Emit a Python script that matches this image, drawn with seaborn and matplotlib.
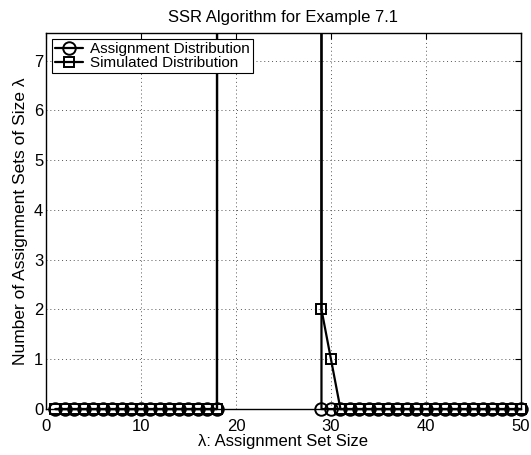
import numpy as np
import pandas as pd
import seaborn as sns
import matplotlib
matplotlib.use("Agg")
import matplotlib.pyplot as plt
from matplotlib.transforms import Bbox, TransformedBbox

# Assignment set sizes lambda = 1..50
set_sizes = list(range(1, 51))

# Counts per set size; sizes 19..28 hold very large counts that run off the plotted range
assignment_counts = ([0] * 18
                     + [1400, 9600, 43000, 135000, 295000, 432000, 418000, 271000, 112000, 27000]
                     + [0] * 22)
simulated_counts = ([0] * 18
                    + [1100, 10200, 41800, 137200, 290300, 436600, 415100, 268900, 114500, 28100]
                    + [2, 1] + [0] * 20)

series_names = ["Assignment Distribution", "Simulated Distribution"]

df = pd.DataFrame({
    "size": set_sizes * 2,
    "count": assignment_counts + simulated_counts,
    "series": [series_names[0]] * 50 + [series_names[1]] * 50,
})

sns.set_theme(style="white")
plt.rcParams["font.family"] = ["Liberation Sans", "DejaVu Sans"]
plt.rcParams["text.color"] = "black"
plt.rcParams["axes.labelcolor"] = "black"

fig = plt.figure(figsize=(5.31, 4.55), dpi=100)
ax = fig.add_axes([0.0866, 0.101, 0.8945, 0.826])

styles = {series_names[0]: dict(marker="o", markersize=9),
          series_names[1]: dict(marker="s", markersize=6.5)}
for name in series_names:
    sns.lineplot(data=df[df["series"] == name], x="size", y="count",
                 ax=ax, color="black", linewidth=1.6, estimator=None,
                 sort=False, label=name, markerfacecolor="none",
                 markeredgecolor="black", markeredgewidth=1.4,
                 **styles[name])

# clip the off-scale segments at the top, but let edge markers show in full
clip_box = TransformedBbox(Bbox([[-0.03, -0.05], [1.03, 1.0]]), ax.transAxes)
for line in ax.lines:
    line.set_clip_box(clip_box)

ax.set_xlim(0, 50)
ax.set_ylim(0, 7.55)
ax.set_xticks([0, 10, 20, 30, 40, 50])
ax.set_yticks(range(0, 8))
ax.grid(True, which="major", linestyle=(0, (1, 3)), color="#555555", linewidth=0.7)
for s in ax.spines.values():
    s.set_color("black")
    s.set_linewidth(1.0)
ax.tick_params(direction="in", top=True, right=True, length=4, width=0.8,
               colors="black", labelcolor="black", labelsize=12)
ax.tick_params(axis="x", pad=7)
ax.tick_params(axis="y", pad=2)

ax.set_title("SSR Algorithm for Example 7.1", fontsize=12, pad=8, color="black")
ax.set_xlabel("λ: Assignment Set Size", fontsize=12, labelpad=0)
ax.set_ylabel("Number of Assignment Sets of Size λ", fontsize=12.5, labelpad=4)

leg = ax.legend(loc="upper left", fontsize=11, frameon=True, fancybox=False,
                edgecolor="black", framealpha=1, handlelength=1.8,
                borderpad=0.2, labelspacing=0.0, handletextpad=0.5,
                borderaxespad=0.4)
leg.get_frame().set_linewidth(0.8)
for t in leg.get_texts():
    t.set_color("black")

fig.savefig("out.png", dpi=100)
